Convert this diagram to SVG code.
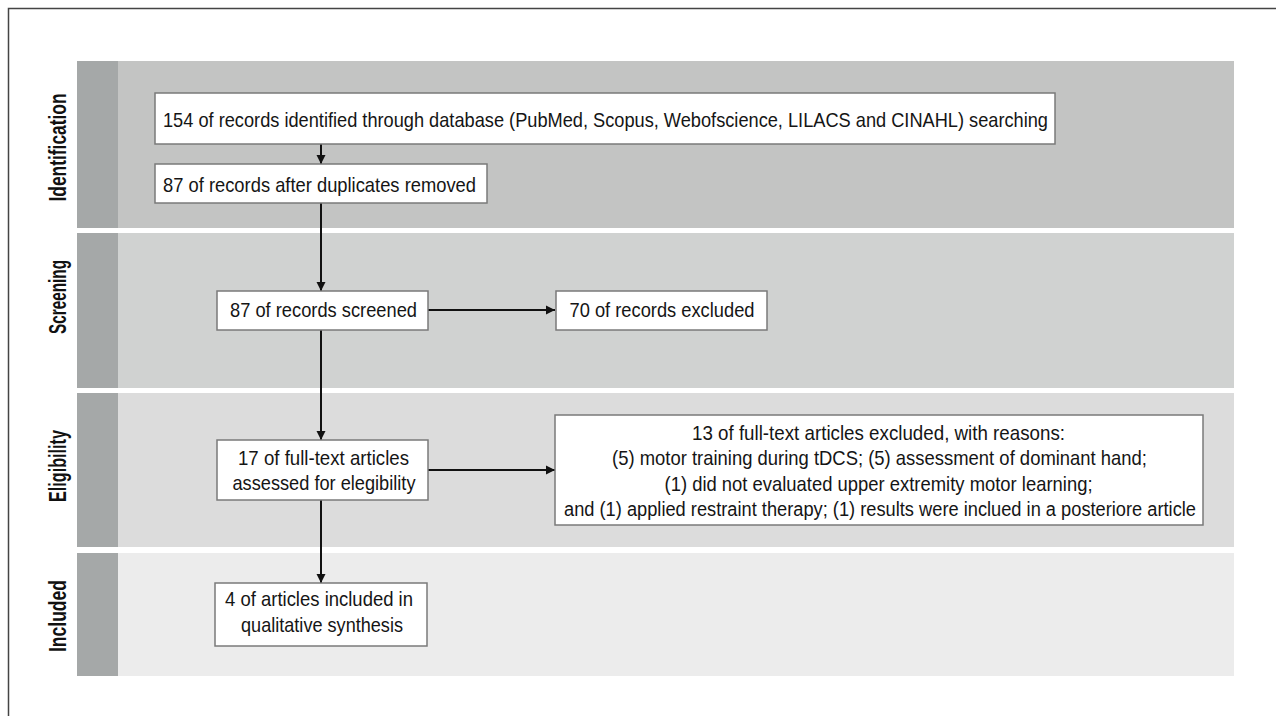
<svg xmlns="http://www.w3.org/2000/svg" width="1276" height="716" viewBox="0 0 1276 716">
  <style>
    .box { fill: #ffffff; stroke: #7a7a7a; stroke-width: 1.5; }
    .t { font-family: "Liberation Sans Narrow", "Liberation Sans", Arial, sans-serif; font-size: 21px; fill: #151515; }
    .lbl { font-family: "Liberation Sans Narrow", "Liberation Sans", Arial, sans-serif; font-size: 23px; font-weight: bold; fill: #111111; }
    .strip { fill: #a5a8a8; }
    .conn { stroke: #111111; stroke-width: 2; fill: none; marker-end: url(#arrow); }
  </style>
  <defs>
    <marker id="arrow" viewBox="0 0 10 10" refX="10" refY="5" markerWidth="9" markerHeight="10" markerUnits="userSpaceOnUse" orient="auto">
      <path d="M0,0 L10,5 L0,10 z" fill="#111111"/>
    </marker>
  </defs>
  <rect x="0" y="0" width="1276" height="716" fill="#ffffff"/>
  <rect x="8.5" y="8.5" width="1300" height="760" fill="none" stroke="#444444" stroke-width="1.5"/>

  <g id="bands">
    <rect x="77" y="61" width="1157" height="167" fill="#c3c4c3"/>
    <rect class="strip" x="77" y="61" width="41" height="167"/>
    <rect x="77" y="233" width="1157" height="155" fill="#d0d2d1"/>
    <rect class="strip" x="77" y="233" width="41" height="155"/>
    <rect x="77" y="393" width="1157" height="154" fill="#dcdcdc"/>
    <rect class="strip" x="77" y="393" width="41" height="154"/>
    <rect x="77" y="553" width="1157" height="123" fill="#ececec"/>
    <rect class="strip" x="77" y="553" width="41" height="123"/>
  </g>

  <g id="labels">
    <text class="lbl" transform="translate(65.5,147.5) rotate(-90)" text-anchor="middle" textLength="108" lengthAdjust="spacingAndGlyphs">Identification</text>
    <text class="lbl" transform="translate(65.5,297) rotate(-90)" text-anchor="middle" textLength="74" lengthAdjust="spacingAndGlyphs">Screening</text>
    <text class="lbl" transform="translate(65.5,466) rotate(-90)" text-anchor="middle" textLength="72" lengthAdjust="spacingAndGlyphs">Eligibility</text>
    <text class="lbl" transform="translate(65.5,616) rotate(-90)" text-anchor="middle" textLength="72" lengthAdjust="spacingAndGlyphs">Included</text>
  </g>

  <g id="connectors">
    <line class="conn" x1="321" y1="144" x2="321" y2="164"/>
    <line class="conn" x1="321" y1="203" x2="321" y2="291"/>
    <line class="conn" x1="428" y1="310" x2="555" y2="310"/>
    <line class="conn" x1="321" y1="330" x2="321" y2="440"/>
    <line class="conn" x1="428" y1="470" x2="555" y2="470"/>
    <line class="conn" x1="321" y1="500" x2="321" y2="583"/>
  </g>

  <g id="n1">
    <rect class="box" x="155" y="93" width="900" height="51"/>
    <text class="t" x="163" y="127" textLength="885" lengthAdjust="spacingAndGlyphs">154 of records identified through database (PubMed, Scopus, Webofscience, LILACS and CINAHL) searching</text>
  </g>
  <g id="n2">
    <rect class="box" x="155" y="164" width="332" height="39"/>
    <text class="t" x="163" y="191.5" textLength="313" lengthAdjust="spacingAndGlyphs">87 of records after duplicates removed</text>
  </g>
  <g id="n3">
    <rect class="box" x="217" y="291" width="211" height="39"/>
    <text class="t" x="230" y="317" textLength="187" lengthAdjust="spacingAndGlyphs">87 of records screened</text>
  </g>
  <g id="n4">
    <rect class="box" x="556" y="291" width="211" height="39"/>
    <text class="t" x="569.5" y="317" textLength="185" lengthAdjust="spacingAndGlyphs">70 of records excluded</text>
  </g>
  <g id="n5">
    <rect class="box" x="217" y="440" width="211" height="60"/>
    <text class="t" x="238" y="465" textLength="171" lengthAdjust="spacingAndGlyphs">17 of full-text articles</text>
    <text class="t" x="232.5" y="489.5" textLength="183" lengthAdjust="spacingAndGlyphs">assessed for elegibility</text>
  </g>
  <g id="n6">
    <rect class="box" x="555" y="415" width="648" height="110"/>
    <text class="t" x="692" y="439.5" textLength="373" lengthAdjust="spacingAndGlyphs">13 of full-text articles excluded, with reasons:</text>
    <text class="t" x="612" y="465" textLength="535" lengthAdjust="spacingAndGlyphs">(5) motor training during tDCS; (5) assessment of dominant hand;</text>
    <text class="t" x="664.5" y="490.5" textLength="428" lengthAdjust="spacingAndGlyphs">(1) did not evaluated upper extremity motor learning;</text>
    <text class="t" x="564" y="516" style="font-size:20px" textLength="632" lengthAdjust="spacingAndGlyphs">and (1) applied restraint therapy; (1) results were inclued in a posteriore article</text>
  </g>
  <g id="n7">
    <rect class="box" x="215" y="583" width="212" height="63"/>
    <text class="t" x="225" y="605.5" textLength="188" lengthAdjust="spacingAndGlyphs">4 of articles included in</text>
    <text class="t" x="241" y="631.5" textLength="162" lengthAdjust="spacingAndGlyphs">qualitative synthesis</text>
  </g>
</svg>
